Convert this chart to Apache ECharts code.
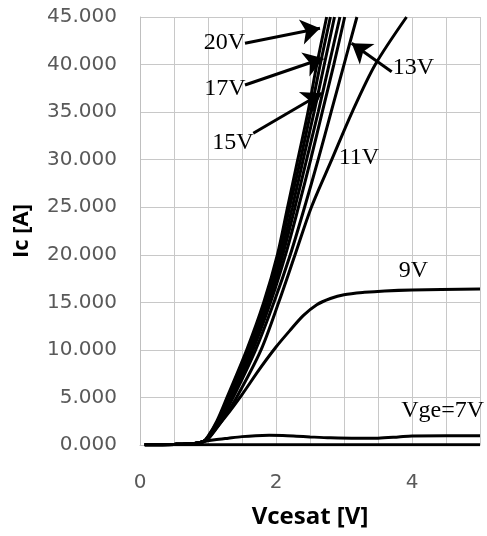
<!DOCTYPE html>
<html>
<head>
<meta charset="utf-8">
<script src="https://cdn.jsdelivr.net/npm/echarts@6/dist/echarts.min.js"></script>
<style>
html,body{margin:0;padding:0;background:#fff;}
#chart{width:487px;height:536px;}
</style>
</head>
<body>
<div id="chart"></div>
<script>
// Curve data: [Vcesat (V), Ic (A)]
var vge5 = [[0.07,0.02],[1.0,0.02],[2.0,0.02],[3.0,0.02],[4.0,0.02],[5.0,0.02]];
var vge7 = [[0.07,0.02],[0.5,0.06],[0.8,0.15],[0.93,0.35],[1.1,0.55],[1.3,0.72],[1.5,0.88],[1.7,0.98],[1.9,1.02],[2.1,1.0],[2.3,0.93],[2.5,0.85],[2.8,0.75],[3.2,0.7],[3.5,0.72],[3.8,0.85],[4.0,0.95],[4.5,0.97],[5.0,0.97]];
var vge9 = [[0.07,0.02],[0.5,0.06],[0.8,0.15],[0.93,0.35],[1.0,0.75],[1.25,2.9],[1.5,5.3],[1.75,7.9],[2.0,10.3],[2.2,12.0],[2.4,13.6],[2.6,14.75],[2.8,15.4],[3.0,15.8],[3.3,16.05],[3.6,16.2],[4.0,16.3],[5.0,16.4]];
var vge11 = [[0.07,0.02],[0.5,0.06],[0.8,0.15],[0.93,0.35],[1.0,0.6],[1.2,2.5],[1.42,5],[1.78,10],[2.04,15],[2.28,20],[2.52,25],[2.82,30],[3.12,35],[3.46,40],[3.92,45]];
var vge13 = [[0.07,0.02],[0.5,0.06],[0.8,0.15],[0.93,0.35],[1.0,0.65],[1.18,2.5],[1.37,5],[1.70,10],[1.97,15],[2.21,20],[2.42,25],[2.62,30],[2.81,35],[3.00,40],[3.19,45]];
var vge14 = [[0.07,0.02],[0.5,0.06],[0.8,0.15],[0.93,0.35],[1.0,0.7],[1.17,2.5],[1.35,5],[1.66,10],[1.92,15],[2.14,20],[2.33,25],[2.51,30],[2.68,35],[2.85,40],[3.01,45]];
var vge15 = [[0.07,0.02],[0.5,0.06],[0.8,0.15],[0.93,0.35],[1.0,0.75],[1.16,2.5],[1.33,5],[1.63,10],[1.89,15],[2.10,20],[2.28,25],[2.45,30],[2.62,35],[2.78,40],[2.94,45]];
var vge17 = [[0.07,0.02],[0.5,0.06],[0.8,0.15],[0.93,0.35],[1.0,0.8],[1.15,2.5],[1.31,5],[1.61,10],[1.86,15],[2.07,20],[2.24,25],[2.40,30],[2.56,35],[2.71,40],[2.86,45]];
var vge19 = [[0.07,0.02],[0.5,0.06],[0.8,0.15],[0.93,0.35],[1.0,0.85],[1.14,2.5],[1.30,5],[1.59,10],[1.84,15],[2.04,20],[2.20,25],[2.36,30],[2.51,35],[2.65,40],[2.80,45]];
var vge20 = [[0.07,0.02],[0.5,0.06],[0.8,0.15],[0.93,0.35],[1.0,0.9],[1.13,2.5],[1.28,5],[1.57,10],[1.82,15],[2.02,20],[2.17,25],[2.32,30],[2.47,35],[2.60,40],[2.745,45]];

var seriesNames = ['5V','7V','9V','11V','13V','14V','15V','17V','19V','20V'];
var seriesData = [vge5, vge7, vge9, vge11, vge13, vge14, vge15, vge17, vge19, vge20];

// Annotation labels and arrows (data coordinates)
var labelTexts = ['20V','17V','15V','13V','11V','9V','Vge=7V'];
var labelCoords = [[1.243,42.27],[1.25,37.43],[1.368,31.81],[4.022,39.69],[3.22,30.23],[4.02,18.3],[4.45,3.58]];
var arrowFrom = [[1.544,42.24],[1.544,37.85],[1.666,32.78],[3.701,39.25]];
var arrowTo   = [[2.647,43.81],[2.696,40.66],[2.672,36.98],[3.113,42.24]];

// X tick labels shown
var xTickLabels = [0, 2, 4];

var chart = echarts.init(document.getElementById('chart'), null, {renderer:'canvas'});

var series = seriesData.map(function(d, i){
  return {
    name: seriesNames[i],
    type: 'line',
    data: d,
    showSymbol: false,
    smooth: 0.3,
    clip: true,
    lineStyle: {color:'#000', width:3},
    z: 3
  };
});

series.push({
  name: 'annotations',
  type: 'line',
  data: [],
  silent: true,
  markLine: {
    silent: true,
    symbol: ['none','arrow'],
    symbolSize: 19,
    lineStyle: {color:'#000', width:3, type:'solid'},
    itemStyle: {color:'#000'},
    label: {show:false},
    animation: false,
    data: arrowFrom.map(function(f, i){
      return [{coord:f}, {coord:arrowTo[i]}];
    })
  },
  markPoint: {
    silent: true,
    symbol: 'rect',
    symbolSize: 0,
    animation: false,
    label: {
      show: true,
      position: 'inside',
      formatter: '{b}',
      color: '#000',
      fontFamily: 'Liberation Serif',
      fontSize: 24
    },
    data: labelTexts.map(function(t, i){
      return {name: t, coord: labelCoords[i]};
    })
  },
  z: 4
});

var option = {
  animation: false,
  backgroundColor: '#fff',
  grid: {left:140, right:7, top:17, bottom:91, containLabel:false},
  xAxis: {
    type: 'value',
    min: 0, max: 5, interval: 0.5,
    name: 'Vcesat [V]',
    nameLocation: 'middle',
    nameGap: 60,
    nameTextStyle: {fontFamily:'Open Sans', fontWeight:'bold', fontSize:24, color:'#000'},
    axisLine: {show:true, lineStyle:{color:'#bfbfbf', width:1}},
    axisTick: {show:false},
    axisLabel: {
      margin: 28,
      fontFamily: 'DejaVu Sans',
      fontSize: 20,
      color: '#595959',
      formatter: function(v){
        for (var i=0;i<xTickLabels.length;i++){ if (Math.abs(v-xTickLabels[i])<1e-9) return String(xTickLabels[i]); }
        return '';
      }
    },
    splitLine: {show:true, lineStyle:{color:'#c8c8c8', width:1}}
  },
  yAxis: {
    type: 'value',
    min: 0, max: 45, interval: 5,
    name: 'Ic [A]',
    nameLocation: 'middle',
    nameGap: 107,
    nameTextStyle: {fontFamily:'Open Sans', fontWeight:'bold', fontSize:22, color:'#000'},
    axisLine: {show:true, lineStyle:{color:'#bfbfbf', width:1}},
    axisTick: {show:false},
    axisLabel: {
      margin: 23,
      fontFamily: 'DejaVu Sans',
      fontSize: 20,
      color: '#595959',
      formatter: function(v){ return v.toFixed(3); }
    },
    splitLine: {show:true, lineStyle:{color:'#c8c8c8', width:1}}
  },
  series: series
};

chart.setOption(option);
</script>
</body>
</html>
